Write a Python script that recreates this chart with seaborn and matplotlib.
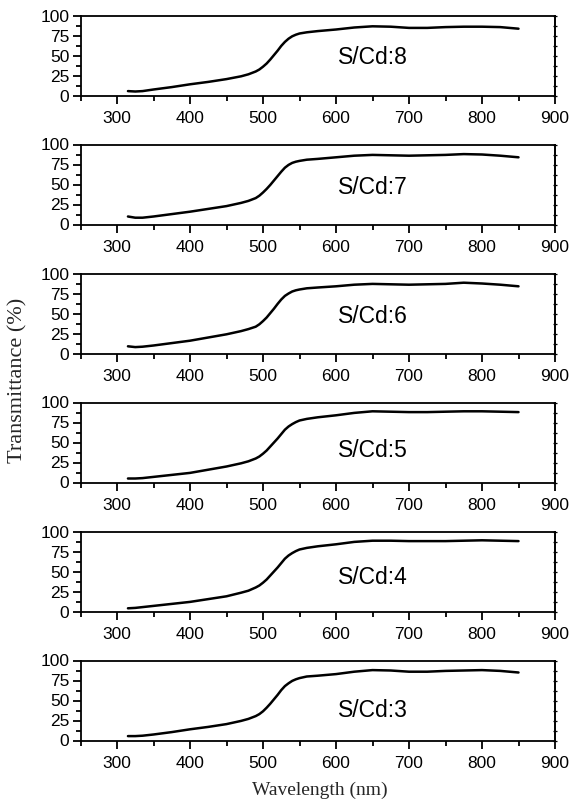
import numpy as np
import pandas as pd
import matplotlib
matplotlib.use("Agg")
import matplotlib.pyplot as plt
from matplotlib.ticker import MultipleLocator
import seaborn as sns

wavelength = [315, 325, 335, 350, 375, 400, 425, 450, 470, 480, 490, 495, 500, 505,
              510, 515, 520, 525, 530, 535, 540, 545, 550, 560, 575, 600, 625, 650,
              675, 700, 725, 750, 775, 800, 825, 850]

t_sc8 = [5.5, 5.0, 5.5, 7.5, 10.5, 14.0, 17.0, 20.5, 24.0, 26.5, 30.0, 32.5, 36.0, 40.0,
         45.0, 50.5, 56.0, 62.0, 67.0, 71.0, 74.0, 76.0, 77.5, 79.0, 80.5, 82.5, 85.0, 86.5,
         86.0, 84.5, 84.5, 85.5, 86.0, 86.0, 85.5, 83.5]
t_sc7 = [10.0, 8.5, 8.5, 10.0, 13.0, 16.0, 19.5, 23.0, 27.0, 29.5, 33.0, 36.0, 40.0, 44.5,
         49.5, 55.0, 60.5, 66.0, 71.0, 74.5, 77.0, 78.5, 79.5, 81.0, 82.0, 84.0, 86.0, 87.0,
         86.5, 86.0, 86.5, 87.0, 88.0, 87.5, 86.0, 84.0]
t_sc6 = [9.0, 8.0, 8.5, 10.0, 13.0, 16.0, 20.0, 24.0, 28.0, 30.5, 33.5, 36.5, 40.5, 45.0,
         50.5, 56.0, 62.0, 67.5, 72.0, 75.0, 77.5, 79.0, 80.0, 81.5, 82.5, 84.0, 86.0, 87.0,
         86.5, 86.0, 86.5, 87.0, 88.5, 87.5, 86.0, 84.0]
t_sc5 = [5.0, 5.0, 5.5, 7.0, 9.5, 12.0, 16.0, 20.0, 24.0, 26.5, 30.0, 32.5, 36.0, 40.0,
         45.0, 50.0, 55.0, 60.5, 66.0, 70.0, 73.0, 75.5, 77.5, 79.5, 81.5, 84.0, 87.0, 89.0,
         88.5, 88.0, 88.0, 88.5, 89.0, 89.0, 88.5, 88.0]
t_sc4 = [4.0, 4.5, 5.5, 7.0, 9.5, 12.0, 15.5, 19.0, 23.5, 26.0, 30.0, 32.5, 36.0, 40.0,
         45.0, 50.0, 55.0, 60.5, 66.0, 70.0, 73.0, 75.5, 77.5, 79.5, 81.5, 84.0, 87.0, 88.5,
         88.5, 88.0, 88.0, 88.0, 88.5, 89.0, 88.5, 88.0]
t_sc3 = [5.5, 5.5, 6.0, 7.5, 10.5, 14.0, 17.0, 20.5, 24.5, 27.0, 30.5, 33.0, 36.5, 41.0,
         46.0, 51.5, 57.0, 63.0, 68.0, 71.5, 74.5, 76.5, 78.0, 80.0, 81.0, 83.0, 86.0, 88.0,
         87.5, 86.0, 86.0, 87.0, 87.5, 88.0, 87.0, 85.0]

labels = ["S/Cd:8", "S/Cd:7", "S/Cd:6", "S/Cd:5", "S/Cd:4", "S/Cd:3"]
series = [t_sc8, t_sc7, t_sc6, t_sc5, t_sc4, t_sc3]
label_y = [48, 46, 46, 40, 42.5, 37.5]

xticks = [300, 400, 500, 600, 700, 800, 900]
yticks = [0, 25, 50, 75, 100]

sns.set_theme(style="ticks")
plt.rcParams['font.family'] = ['Liberation Sans', 'DejaVu Sans']

fig = plt.figure(figsize=(5.73, 8.06), dpi=100)
W, H = 573.0, 806.0
left_px, right_px = 80.5, 555.0
for i, (lab, vals) in enumerate(zip(labels, series)):
    top_px = 15.5 + 129 * i
    bot_px = top_px + 80
    ax = fig.add_axes([left_px / W, 1 - bot_px / H, (right_px - left_px) / W, 80 / H])
    df = pd.DataFrame({"wavelength": wavelength, "T": vals})
    sns.lineplot(data=df, x="wavelength", y="T", ax=ax, color="black", lw=1.8)
    ax.set_xlim(250, 900)
    ax.set_ylim(0, 100)
    ax.set_xticks(xticks)
    ax.set_yticks(yticks)
    ax.xaxis.set_minor_locator(MultipleLocator(50))
    ax.yaxis.set_minor_locator(MultipleLocator(12.5))
    ax.set_xlabel("")
    ax.set_ylabel("")
    for s in ax.spines.values():
        s.set_linewidth(1.3)
        s.set_color("black")
    ax.tick_params(axis="both", which="major", direction="out", length=6, width=1.3,
                   labelsize=12.5, colors="black", pad=2)
    ax.tick_params(axis="both", which="minor", direction="out", length=3.5, width=1.3,
                   colors="black")
    ax.tick_params(axis="x", which="major", pad=5)
    sec = ax.secondary_yaxis("right")
    sec.set_yticks(np.arange(0, 101, 12.5))
    sec.tick_params(direction="inout", length=3, width=0.9, labelright=False, colors="black")
    sec.spines["right"].set_linewidth(1.3)
    ax.text(650, label_y[i], lab, ha="center", va="center", fontsize=16.5, color="black")

fig.text(320 / W, 1 - 790 / H, "Wavelength (nm)", ha="center", va="center",
         fontsize=14, family=["Liberation Serif", "DejaVu Serif"])
fig.text(18 / W, 1 - 380 / H, "Transmittance (%)", ha="center", va="center",
         rotation=90, fontsize=16, family=["Liberation Serif", "DejaVu Serif"])

fig.savefig("out.png", dpi=100, facecolor="white")
